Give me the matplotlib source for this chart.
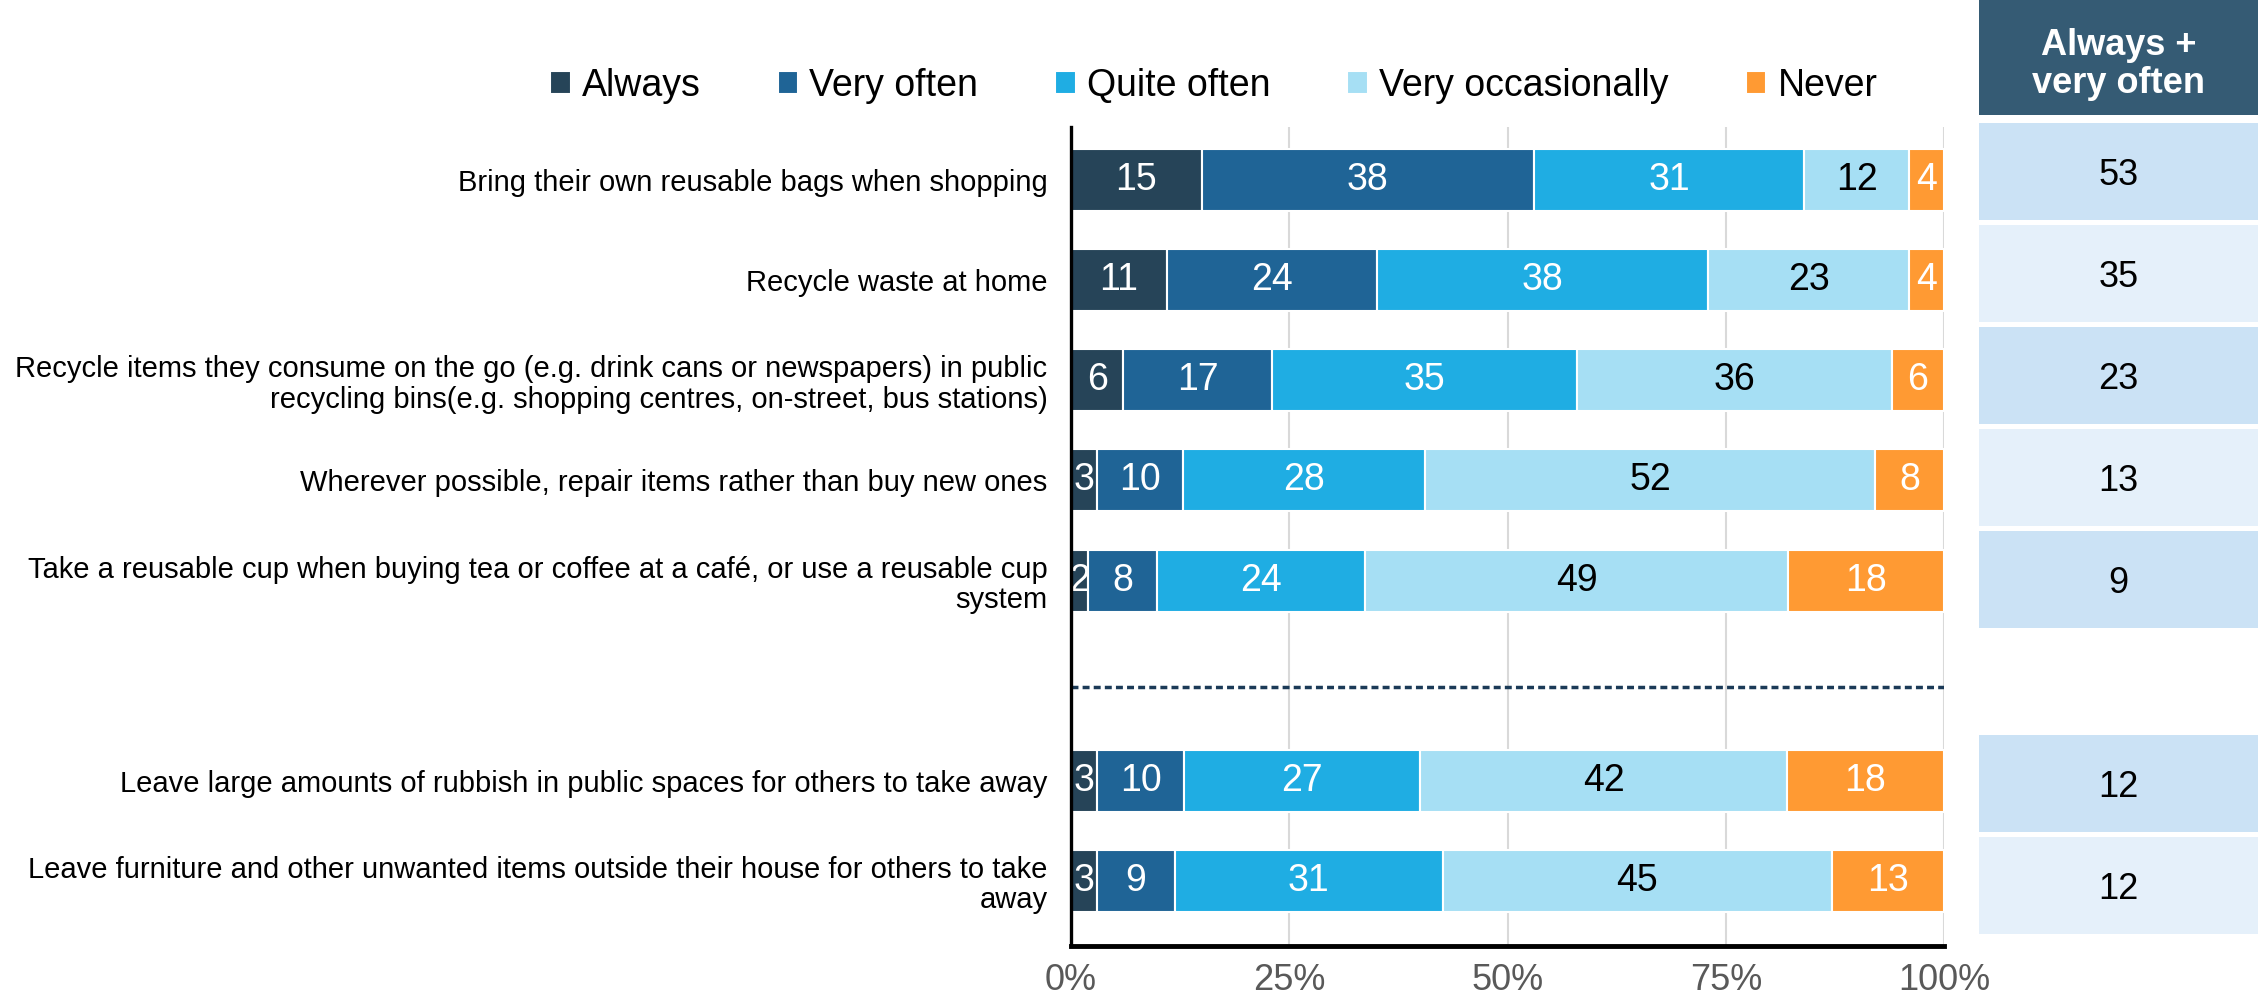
import numpy as np
import matplotlib
matplotlib.use("Agg")
import matplotlib.pyplot as plt
from matplotlib.ticker import FuncFormatter

plt.rcParams['font.family'] = ['Liberation Sans', 'DejaVu Sans']

# --- data ---
categories = [
    "Bring their own reusable bags when shopping",
    "Recycle waste at home",
    "Recycle items they consume on the go (e.g. drink cans or newspapers) in public\nrecycling bins(e.g. shopping centres, on-street, bus stations)",
    "Wherever possible, repair items rather than buy new ones",
    "Take a reusable cup when buying tea or coffee at a café, or use a reusable cup\nsystem",
    "Leave large amounts of rubbish in public spaces for others to take away",
    "Leave furniture and other unwanted items outside their house for others to take\naway",
]
series_names = ["Always", "Very often", "Quite often", "Very occasionally", "Never"]
always = [15, 11, 6, 3, 2, 3, 3]
very_often = [38, 24, 17, 10, 8, 10, 9]
quite_often = [31, 38, 35, 28, 24, 27, 31]
very_occasionally = [12, 23, 36, 52, 49, 42, 45]
never = [4, 4, 6, 8, 18, 18, 13]
always_plus_very_often = [53, 35, 23, 13, 9, 12, 12]

# row slots: the 6th slot is left empty for the divider
row_pos = [0, 1, 2, 3, 4, 6, 7]
divider_pos = 5.06

colors = ["#264458", "#1f6496", "#1fade3", "#a6dff4", "#ff9a33"]
text_colors = ["white", "white", "white", "black", "white"]

W, H = 2258, 997
fig = plt.figure(figsize=(W / 100, H / 100), dpi=100)

# --- main stacked bar chart ---
ax = fig.add_axes([1071 / W, 1 - 946 / H, 873 / W, 819 / H])
values = np.array([always, very_often, quite_often, very_occasionally, never], dtype=float)
shares = values / values.sum(axis=0) * 100
left = np.zeros(len(categories))
for i, name in enumerate(series_names):
    bars = ax.barh(row_pos, shares[i], left=left, height=0.62, color=colors[i],
                   edgecolor="white", linewidth=1.5, label=name, zorder=3)
    for b, v in zip(bars, values[i]):
        ax.text(b.get_x() + b.get_width() / 2, b.get_y() + b.get_height() / 2,
                f"{v:.0f}", ha="center", va="center", fontsize=27,
                color=text_colors[i], zorder=4)
    left += shares[i]

ax.axhline(divider_pos, xmin=0, xmax=1, color="#1b3a57", lw=2.5,
           ls=(0, (2, 1.2)), zorder=2)

ax.set_xlim(0, 100)
ax.set_ylim(7.65, -0.53)
ax.set_xticks([0, 25, 50, 75, 100])
ax.xaxis.set_major_formatter(FuncFormatter(lambda x, _: f"{x:.0f}%"))
ax.tick_params(axis="x", length=0, pad=12, labelsize=26, labelcolor="#595959")
ax.set_yticks(row_pos)
ax.set_yticklabels(categories, fontsize=21, linespacing=1.1)
ax.tick_params(axis="y", length=0, pad=17)
ax.grid(axis="x", color="#d9d9d9", lw=1.5, zorder=0)
ax.set_axisbelow(True)
for s in ["top", "right"]:
    ax.spines[s].set_visible(False)
ax.spines["left"].set_linewidth(2.4)
ax.spines["left"].set_color("black")
ax.spines["left"].set_zorder(5)
ax.spines["bottom"].set_linewidth(3.5)
ax.spines["bottom"].set_color("black")

fig.legend(loc="center", bbox_to_anchor=(0.5375, 1 - 86 / H), ncol=5, frameon=False,
           fontsize=27, handlelength=0.55, handleheight=0.55, handletextpad=0.3,
           columnspacing=2.05, borderaxespad=0)

# --- side table: always + very often ---
tab = fig.add_axes([1979 / W, 1 - 938 / H, 279 / W, 818 / H])
cell_colors = ["#cbe2f5", "#e5f0fa", "#cbe2f5", "#e5f0fa", "#cbe2f5", "#cbe2f5", "#e5f0fa"]
tab.barh(row_pos, 1, height=0.95, color=cell_colors)
for y, v in zip(row_pos, always_plus_very_often):
    tab.text(0.5, y + 0.04, str(v), ha="center", va="center", fontsize=26, color="black")
tab.set_xlim(0, 1)
tab.set_ylim(7.515, -0.505)
tab.axis("off")

head = fig.add_axes([1979 / W, 1 - 115 / H, 279 / W, 115 / H])
head.set_facecolor("#355b74")
head.set_xticks([])
head.set_yticks([])
for s in head.spines.values():
    s.set_visible(False)
head.text(0.5, 0.44, "Always +\nvery often", ha="center", va="center",
          fontsize=26, fontweight="bold", color="white", linespacing=1.1,
          transform=head.transAxes)

fig.savefig("out.png", dpi=100)
